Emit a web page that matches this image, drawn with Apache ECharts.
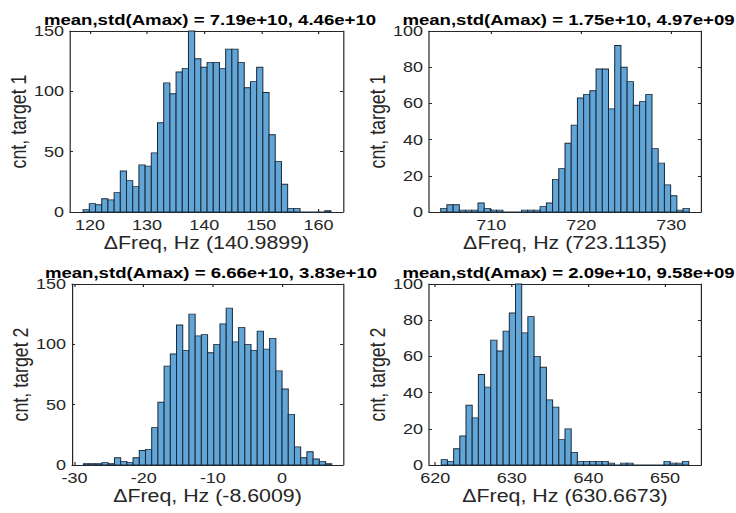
<!DOCTYPE html>
<html>
<head>
<meta charset="utf-8">
<script src="https://cdn.jsdelivr.net/npm/echarts@6/dist/echarts.min.js"></script>
<style>
    html, body { margin: 0; padding: 0; background: #fff; overflow: hidden; }
    /* the source figure is stretched sideways, so the chart is drawn narrow and widened */
    #chart { width: 613px; height: 513px; transform: scaleX(1.2); transform-origin: 0 0; }
</style>
</head>
<body>
<div id="chart"></div>
<script>
// counts per bin (40 bins each)
var counts1 = [2, 7, 6, 11, 10, 16, 34, 26, 21, 39, 38, 49, 74, 107, 98, 116, 119, 150, 127, 120,
    124, 124, 119, 135, 135, 124, 103, 108, 120, 99, 64, 42, 23, 3, 3, 0, 0, 0, 0, 1];
var counts2 = [2, 4, 4, 1, 1, 1, 5, 2, 1, 1, 0, 0, 0, 1, 1, 1, 3, 5, 18, 24,
    38, 48, 63, 65, 67, 79, 79, 57, 92, 80, 72, 59, 61, 65, 35, 27, 15, 9, 1, 2];
var counts3 = [1, 1, 1, 2, 1, 6, 3, 2, 6, 12, 13, 31, 52, 82, 92, 116, 95, 125, 107, 108,
    93, 100, 117, 130, 102, 114, 100, 95, 111, 96, 105, 78, 63, 42, 15, 6, 11, 5, 3, 1];
var counts4 = [3, 2, 9, 16, 33, 26, 50, 43, 69, 63, 74, 84, 100, 73, 82, 60, 54, 36, 32, 14,
    20, 7, 2, 2, 2, 2, 2, 1, 0, 1, 1, 0, 0, 0, 0, 0, 2, 1, 1, 2];

// first and last bin edge
var binRange1 = [118.8, 162.2];
var binRange2 = [704.4, 732.0];
var binRange3 = [-28.7, 7.17];
var binRange4 = [620.8, 653.1];

// axis limits and ticks
var xLim1 = [116.5, 164.3];
var xLim2 = [703.1, 733.3];
var xLim3 = [-30.35, 8.8];
var xLim4 = [619.2, 654.7];
var xTicks1 = [120, 130, 140, 150, 160];
var xTicks2 = [710, 720, 730];
var xTicks3 = [-30, -20, -10, 0];
var xTicks4 = [620, 630, 640, 650];
var yTicks1 = [0, 50, 100, 150];
var yTicks2 = [0, 20, 40, 60, 80, 100];
var yTicks3 = [0, 50, 100, 150];
var yTicks4 = [0, 20, 40, 60, 80, 100];

var titles = [
    'mean,std(Amax) = 7.19e+10, 4.46e+10',
    'mean,std(Amax) = 1.75e+10, 4.97e+09',
    'mean,std(Amax) = 6.66e+10, 3.83e+10',
    'mean,std(Amax) = 2.09e+10, 9.58e+09'
];
var xNames = ['\u0394Freq, Hz (140.9899)', '\u0394Freq, Hz (723.1135)', '\u0394Freq, Hz (-8.6009)', '\u0394Freq, Hz (630.6673)'];
var yNames = ['cnt, target 1', 'cnt, target 1', 'cnt, target 2', 'cnt, target 2'];

var S = 1.2;  // horizontal stretch of the figure
var FONT = '"Liberation Sans", Arial, sans-serif';
var AXIS_COLOR = '#262626';
var BAR_FILL = '#62a6d8';
var BAR_EDGE = '#1b2a3a';

// axes boxes in page pixels
var boxes = [
    { left: 70, top: 31, width: 273, height: 181 },
    { left: 429, top: 31, width: 272, height: 181 },
    { left: 72, top: 284, width: 271, height: 181 },
    { left: 429, top: 284, width: 272, height: 181 }
];

var panels = [
    { counts: counts1, bins: binRange1, xLim: xLim1, xTicks: xTicks1, yTicks: yTicks1 },
    { counts: counts2, bins: binRange2, xLim: xLim2, xTicks: xTicks2, yTicks: yTicks2 },
    { counts: counts3, bins: binRange3, xLim: xLim3, xTicks: xTicks3, yTicks: yTicks3 },
    { counts: counts4, bins: binRange4, xLim: xLim4, xTicks: xTicks4, yTicks: yTicks4 }
];

function binData(counts, range) {
    var w = (range[1] - range[0]) / counts.length;
    var data = [];
    for (var i = 0; i < counts.length; i++) {
        data.push([range[0] + i * w, range[0] + (i + 1) * w, counts[i]]);
    }
    return data;
}

function renderBin(params, api) {
    var p0 = api.coord([api.value(0), api.value(2)]);
    var p1 = api.coord([api.value(1), 0]);
    return {
        type: 'rect',
        shape: { x: p0[0], y: p0[1], width: p1[0] - p0[0], height: p1[1] - p0[1] },
        style: { fill: BAR_FILL, stroke: BAR_EDGE, lineWidth: 0.85 }
    };
}

var lineStyle = { color: AXIS_COLOR, width: 1 };
var labelFont = { fontFamily: FONT, fontSize: 17.8, color: AXIS_COLOR };
var grid = [], xAxis = [], yAxis = [], series = [], title = [];

panels.forEach(function (p, i) {
    var box = boxes[i];
    var yMax = p.yTicks[p.yTicks.length - 1];
    grid.push({ left: box.left / S, top: box.top, width: box.width / S, height: box.height });
    title.push({
        text: titles[i],
        left: (box.left + box.width / 2 + 3.5) / S,
        top: box.top - 19,
        textAlign: 'center',
        padding: 0,
        textStyle: { fontFamily: FONT, fontSize: 15.5, fontWeight: 'bold', color: '#000' }
    });
    xAxis.push({
        type: 'value', gridIndex: i, position: 'bottom',
        min: p.xLim[0], max: p.xLim[1],
        name: xNames[i], nameLocation: 'middle', nameGap: 21,
        nameTextStyle: labelFont,
        axisLine: { show: true, onZero: false, lineStyle: lineStyle },
        axisTick: { show: true, inside: true, length: 3, customValues: p.xTicks, lineStyle: lineStyle },
        axisLabel: { customValues: p.xTicks, margin: 6, fontFamily: FONT, fontSize: 15, color: AXIS_COLOR },
        splitLine: { show: false }
    });
    xAxis.push({
        type: 'value', gridIndex: i, position: 'top',
        min: p.xLim[0], max: p.xLim[1],
        axisLine: { show: true, onZero: false, lineStyle: lineStyle },
        axisTick: { show: true, inside: true, length: 3, customValues: p.xTicks, lineStyle: lineStyle },
        axisLabel: { show: false },
        splitLine: { show: false }
    });
    yAxis.push({
        type: 'value', gridIndex: i, position: 'left',
        min: 0, max: yMax,
        name: yNames[i], nameLocation: 'middle', nameGap: 33,
        nameTextStyle: labelFont,
        axisLine: { show: true, onZero: false, lineStyle: lineStyle },
        axisTick: { show: true, inside: true, length: 2.5, customValues: p.yTicks, lineStyle: lineStyle },
        axisLabel: { customValues: p.yTicks, margin: 5, fontFamily: FONT, fontSize: 15, color: AXIS_COLOR },
        splitLine: { show: false }
    });
    yAxis.push({
        type: 'value', gridIndex: i, position: 'right',
        min: 0, max: yMax,
        axisLine: { show: true, onZero: false, lineStyle: lineStyle },
        axisTick: { show: true, inside: true, length: 2.5, customValues: p.yTicks, lineStyle: lineStyle },
        axisLabel: { show: false },
        splitLine: { show: false }
    });
    series.push({
        type: 'custom',
        xAxisIndex: 2 * i,
        yAxisIndex: 2 * i,
        renderItem: renderBin,
        encode: { x: [0, 1], y: 2 },
        data: binData(p.counts, p.bins),
        silent: true
    });
});

var chart = echarts.init(document.getElementById('chart'), null, { renderer: 'svg' });
chart.setOption({
    animation: false,
    backgroundColor: '#fff',
    title: title,
    grid: grid,
    xAxis: xAxis,
    yAxis: yAxis,
    series: series
});
</script>
</body>
</html>
